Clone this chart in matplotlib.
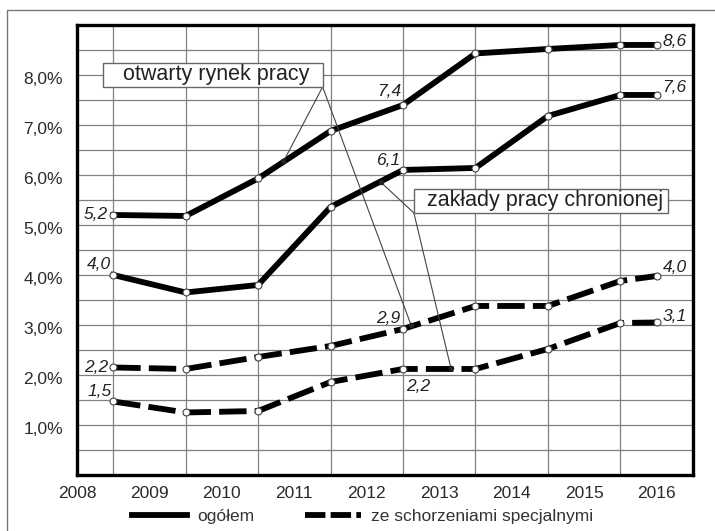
import matplotlib.pyplot as plt
import matplotlib.ticker as mticker
import matplotlib.transforms as mtransforms
from matplotlib.lines import Line2D
from matplotlib.patches import Rectangle

plt.rcParams['font.family'] = ['Liberation Sans', 'DejaVu Sans']

# x positions of the points (points sit between the year labels, last one on 2016)
years = [2008.5, 2009.5, 2010.5, 2011.5, 2012.5, 2013.5, 2014.5, 2015.5, 2016.0]
year_labels = ['2008', '2009', '2010', '2011', '2012', '2013', '2014', '2015', '2016']

# otwarty rynek pracy
open_total = [5.2, 5.18, 5.93, 6.88, 7.4, 8.43, 8.52, 8.6, 8.6]
open_sick = [2.15, 2.12, 2.36, 2.58, 2.92, 3.38, 3.38, 3.88, 3.98]
# zaklady pracy chronionej
prot_total = [4.0, 3.65, 3.8, 5.36, 6.1, 6.14, 7.18, 7.6, 7.6]
prot_sick = [1.47, 1.25, 1.28, 1.86, 2.12, 2.12, 2.52, 3.04, 3.05]

fig = plt.figure(figsize=(7.15, 5.31), dpi=100)
ax = fig.add_axes([0.1077, 0.1055, 0.8613, 0.8475])

# outer grey frame
fig.patches.append(Rectangle((7 / 715, -0.1), 1.2, 1.1 - 10 / 531,
                             transform=fig.transFigure, fill=False,
                             edgecolor='#777777', lw=1.0))

dash = (4.7, 1.4)
lw = 4.2
mk = dict(marker='o', markersize=5, markerfacecolor='white',
          markeredgecolor='#444444', markeredgewidth=0.8)

ax.plot(years, open_total, color='black', lw=lw, zorder=3, **mk)
ax.plot(years, prot_total, color='black', lw=lw, zorder=3, **mk)
ax.plot(years, open_sick, color='black', lw=lw, dashes=dash, zorder=3, **mk)
ax.plot(years, prot_sick, color='black', lw=lw, dashes=dash, zorder=3, **mk)

ax.set_xlim(2008, 2016.5)
ax.set_ylim(0, 9)

ax.set_xticks([int(y) for y in year_labels])
ax.set_xticklabels(year_labels)
ax.xaxis.set_minor_locator(mticker.FixedLocator([2008.5 + i for i in range(8)]))
ax.yaxis.set_major_locator(mticker.MultipleLocator(0.5))


def pct(v, pos):
    if v < 0.9 or v > 8.1 or abs(v - round(v)) > 0.01:
        return ''
    return ('%.1f%%' % v).replace('.', ',')


ax.yaxis.set_major_formatter(mticker.FuncFormatter(pct))
ax.tick_params(axis='both', which='both', length=0, labelsize=12.5,
               labelcolor='#2a2a2a')
ax.tick_params(axis='y', pad=10)
ax.tick_params(axis='x', pad=8)

# y labels sit a little below their grid lines in the original
shift = mtransforms.ScaledTranslation(0, -3 / 100, fig.dpi_scale_trans)
for lab in ax.get_yticklabels():
    lab.set_transform(lab.get_transform() + shift)

ax.grid(axis='y', which='major', color='#808080', lw=0.9)
ax.grid(axis='x', which='minor', color='#808080', lw=0.9)
ax.set_axisbelow(True)
for s in ax.spines.values():
    s.set_linewidth(2.4)
    s.set_color('black')

# value labels: (series, index, text, dx px, dy px, ha, va)
series = [open_total, prot_total, open_sick, prot_sick]
labels = [
    (0, 0, '5,2', -5, 0, 'right', 'center'),
    (1, 0, '4,0', -2, 3, 'right', 'bottom'),
    (2, 0, '2,2', -5, 0, 'right', 'center'),
    (3, 0, '1,5', -2, 2, 'right', 'bottom'),
    (0, 4, '7,4', -2, 6, 'right', 'bottom'),
    (1, 4, '6,1', -3, 2, 'right', 'bottom'),
    (2, 4, '2,9', -3, 3, 'right', 'bottom'),
    (3, 4, '2,2', 3, -10, 'left', 'top'),
    (0, 8, '8,6', 6, 3, 'left', 'center'),
    (1, 8, '7,6', 6, 7, 'left', 'center'),
    (2, 8, '4,0', 6, 8, 'left', 'center'),
    (3, 8, '3,1', 6, 6, 'left', 'center'),
]
for si, i, t, dx, dy, ha, va in labels:
    ax.annotate(t, (years[i], series[si][i]), xytext=(dx * 0.72, dy * 0.72),
                textcoords='offset points', ha=ha, va=va, fontsize=12.5,
                style='italic', color='#222222', zorder=5)

# callout boxes with leader lines
boxes = [
    ('otwarty rynek pracy', (2008.36, 7.76), 3.03, (2011.39, 7.76),
     [(2010.85, 6.27), (2012.61, 3.0)]),
    ('zakłady pracy chronionej', (2012.65, 5.24), 3.51, (2012.65, 5.24),
     [(2012.19, 5.86), (2013.16, 2.14)]),
]
for text, xy, w, corner, ends in boxes:
    ax.add_patch(Rectangle(xy, w, 0.48, facecolor='white', edgecolor='#666666',
                           lw=1.0, zorder=6))
    ax.text(xy[0] + w / 2 + 0.05, xy[1] + 0.24, text, ha='center', va='center',
            fontsize=15.5, color='#222222', zorder=7)
    for ex, ey in ends:
        ax.plot([corner[0], ex], [corner[1], ey], color='#444444', lw=0.8,
                zorder=4)
        ax.plot(ex, ey, 'o', color='#222222', markersize=3, zorder=5)

handles = [Line2D([], [], color='black', lw=lw),
           Line2D([], [], color='black', lw=lw, dashes=(3.5, 0.9))]
fig.legend(handles, ['ogółem', 'ze schorzeniami specjalnymi'], loc='center',
           bbox_to_anchor=(0.507, 0.027), ncol=2, frameon=False,
           fontsize=12.5, handlelength=3.2, handletextpad=0.6,
           columnspacing=2.9, labelcolor='#333333')

fig.savefig('out.png', dpi=100)
